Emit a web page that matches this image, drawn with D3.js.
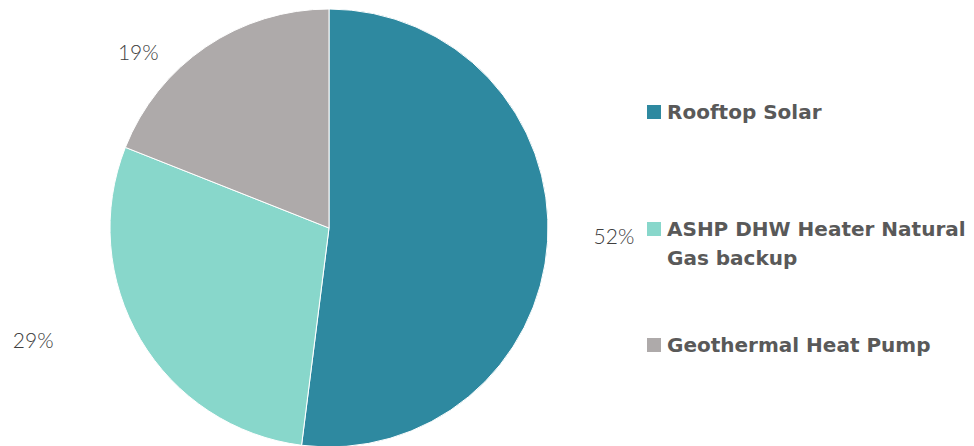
<!DOCTYPE html>
<html>
<head>
<meta charset="utf-8">
<script src="https://cdn.jsdelivr.net/npm/d3@7"></script>
<style>
  body { margin: 0; background: #fff; }
  svg { display: block; }
</style>
</head>
<body>
<svg class="svg" width="974" height="446"></svg>
<script>
let categories = ['Rooftop Solar', 'ASHP DHW Heater Natural Gas backup', 'Geothermal Heat Pump'];
let legendLines = [['Rooftop Solar'], ['ASHP DHW Heater Natural', 'Gas backup'], ['Geothermal Heat Pump']];
let values = [52, 29, 19];
let colors = ['#2E89A0', '#88D7CB', '#AEAAAA'];

let cx = 329, cy = 228, radius = 219;
// label placement (angle nudge in degrees, distance from centre)
let labelNudge = [[-2, 285], [10, 316], [-13, 260]];
let legendX = 647;
let legendY = [112, 229, 345];

let svg = d3.select('.svg');

let pie = d3.pie().sort(null).value(d => d)(values);
let arc = d3.arc().innerRadius(0).outerRadius(radius);

let g = svg.append('g').attr('transform', 'translate(' + cx + ',' + cy + ')');

g.selectAll('path.slice')
    .data(pie)
    .enter()
    .append('path')
    .attr('class', 'slice')
    .attr('d', arc)
    .attr('fill', (d, i) => colors[i])
    .attr('stroke', '#fff')
    .attr('stroke-width', 1);

g.selectAll('text.pct')
    .data(pie)
    .enter()
    .append('text')
    .attr('class', 'pct')
    .attr('x', (d, i) => {
        let a = (d.startAngle + d.endAngle) / 2 + labelNudge[i][0] * Math.PI / 180;
        return Math.sin(a) * labelNudge[i][1];
    })
    .attr('y', (d, i) => {
        let a = (d.startAngle + d.endAngle) / 2 + labelNudge[i][0] * Math.PI / 180;
        return -Math.cos(a) * labelNudge[i][1];
    })
    .attr('text-anchor', 'middle')
    .attr('dominant-baseline', 'central')
    .style('font-family', 'Lato, "Open Sans", sans-serif')
    .style('font-weight', '300')
    .style('font-size', '21px')
    .style('fill', '#404040')
    .text(d => d.value + '%');

// legend
for (let i = 0; i < categories.length; i++) {
    let item = svg.append('g').attr('class', 'legend');
    item.append('rect')
        .attr('x', legendX)
        .attr('y', legendY[i] - 7)
        .attr('width', 14)
        .attr('height', 14)
        .attr('fill', colors[i]);
    let t = item.append('text')
        .attr('x', legendX + 20)
        .attr('y', legendY[i])
        .attr('dominant-baseline', 'central')
        .style('font-family', '"DejaVu Sans", sans-serif')
        .style('font-weight', 'bold')
        .style('font-size', '20px')
        .style('fill', '#595959');
    for (let j = 0; j < legendLines[i].length; j++) {
        t.append('tspan')
            .attr('x', legendX + 20)
            .attr('dy', j === 0 ? 0 : 29)
            .text(legendLines[i][j]);
    }
}
</script>
</body>
</html>
